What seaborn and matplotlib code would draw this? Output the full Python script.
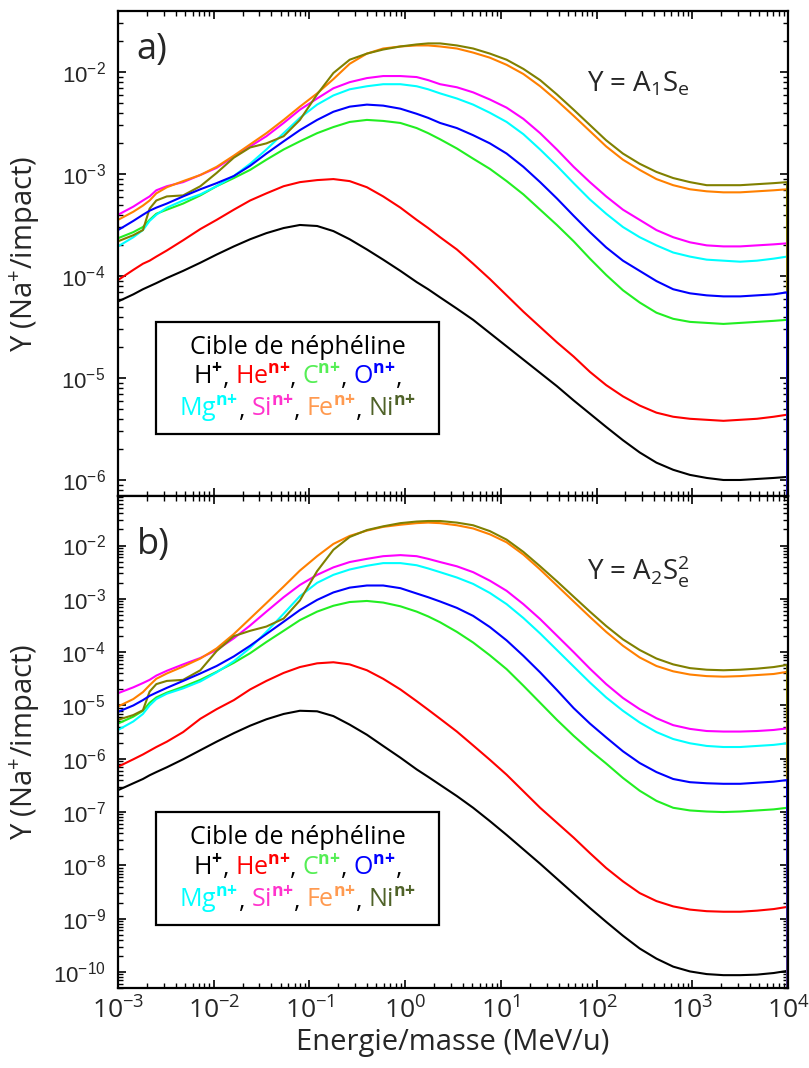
import numpy as np
import pandas as pd
import matplotlib
matplotlib.use('Agg')
import matplotlib.pyplot as plt
import seaborn as sns
from matplotlib.ticker import LogLocator, NullFormatter
from matplotlib.patches import Rectangle
from matplotlib.offsetbox import TextArea, HPacker, AnnotationBbox

# energie/masse (MeV/u), en log10
log_energie = [-3.0, -2.84, -2.74, -2.67, -2.60, -2.49, -2.32, -2.14, -1.97, -1.79, -1.62,
               -1.45, -1.27, -1.10, -0.92, -0.75, -0.58, -0.40, -0.23, -0.05, 0.12, 0.24,
               0.365, 0.54, 0.71, 0.885, 1.06, 1.235, 1.41, 1.585, 1.76, 1.93, 2.10, 2.275,
               2.45, 2.625, 2.80, 2.975, 3.15, 3.325, 3.50, 3.675, 3.85, 3.99]
energie_chute = 9.95e3   # chute verticale en fin de courbe
y_chute = 1e-12

ions = ['H', 'He', 'C', 'O', 'Mg', 'Si', 'Fe', 'Ni']
couleurs = ['#000000', '#ff0000', '#22ee22', '#0000ff', '#00ffff', '#ff00ff', '#ff8000', '#808000']
couleurs_texte = ['#000000', '#ff0000', '#55ee55', '#0000ff', '#00ffff', '#ff33cc', '#ff9a50', '#4f6228']

# a) Y = A1 Se  (log10 du rendement)
ya_h = [-4.25, -4.18, -4.13, -4.10, -4.07, -4.02, -3.95, -3.87, -3.79, -3.71, -3.64, -3.58, -3.53,
        -3.50, -3.51, -3.56, -3.64, -3.74, -3.84, -3.95, -4.06, -4.13, -4.21, -4.32, -4.43, -4.56,
        -4.69, -4.82, -4.95, -5.08, -5.22, -5.35, -5.48, -5.61, -5.73, -5.83, -5.90, -5.95, -5.98,
        -6.00, -6.00, -5.99, -5.98, -5.97]
ya_he = [-4.04, -3.94, -3.88, -3.85, -3.81, -3.75, -3.65, -3.54, -3.45, -3.35, -3.26, -3.19, -3.12,
         -3.08, -3.06, -3.05, -3.07, -3.13, -3.22, -3.33, -3.45, -3.53, -3.62, -3.74, -3.88, -4.03,
         -4.19, -4.35, -4.50, -4.65, -4.79, -4.94, -5.07, -5.18, -5.27, -5.34, -5.38, -5.40, -5.41,
         -5.42, -5.41, -5.40, -5.38, -5.36]
ya_c = [-3.63, -3.57, -3.52, -3.45, -3.39, -3.35, -3.29, -3.21, -3.12, -3.04, -2.96, -2.86, -2.76,
        -2.68, -2.60, -2.54, -2.49, -2.47, -2.48, -2.50, -2.55, -2.60, -2.66, -2.75, -2.85, -2.95,
        -3.07, -3.20, -3.35, -3.50, -3.66, -3.83, -3.99, -4.14, -4.26, -4.36, -4.42, -4.45, -4.46,
        -4.47, -4.46, -4.45, -4.44, -4.43]
ya_o = [-3.55, -3.46, -3.40, -3.36, -3.33, -3.29, -3.22, -3.15, -3.09, -3.02, -2.92, -2.80, -2.68,
        -2.57, -2.47, -2.39, -2.34, -2.32, -2.33, -2.36, -2.41, -2.45, -2.50, -2.55, -2.62, -2.70,
        -2.80, -2.93, -3.08, -3.24, -3.41, -3.57, -3.72, -3.85, -3.95, -4.05, -4.13, -4.17, -4.19,
        -4.20, -4.20, -4.19, -4.18, -4.16]
ya_mg = [-3.71, -3.62, -3.55, -3.46, -3.40, -3.33, -3.26, -3.20, -3.12, -3.02, -2.90, -2.76, -2.60,
         -2.45, -2.32, -2.23, -2.17, -2.14, -2.12, -2.12, -2.14, -2.17, -2.21, -2.26, -2.32, -2.40,
         -2.49, -2.61, -2.76, -2.92, -3.09, -3.25, -3.39, -3.52, -3.62, -3.70, -3.77, -3.81, -3.84,
         -3.85, -3.86, -3.85, -3.83, -3.81]
ya_si = [-3.40, -3.32, -3.26, -3.22, -3.16, -3.12, -3.08, -3.01, -2.94, -2.83, -2.73, -2.63, -2.50,
         -2.37, -2.26, -2.16, -2.10, -2.06, -2.04, -2.04, -2.05, -2.08, -2.12, -2.15, -2.20, -2.27,
         -2.35, -2.46, -2.60, -2.76, -2.93, -3.08, -3.22, -3.35, -3.45, -3.55, -3.62, -3.67, -3.70,
         -3.71, -3.71, -3.70, -3.69, -3.68]
ya_fe = [-3.45, -3.37, -3.31, -3.26, -3.19, -3.13, -3.07, -3.01, -2.93, -2.82, -2.71, -2.60, -2.47,
         -2.34, -2.21, -2.07, -1.92, -1.82, -1.77, -1.75, -1.74, -1.74, -1.75, -1.77, -1.81, -1.86,
         -1.93, -2.02, -2.14, -2.28, -2.43, -2.58, -2.73, -2.86, -2.96, -3.05, -3.11, -3.15, -3.17,
         -3.18, -3.18, -3.17, -3.16, -3.15]
ya_ni = [-3.66, -3.60, -3.55, -3.34, -3.26, -3.22, -3.21, -3.12, -2.99, -2.84, -2.74, -2.70, -2.63,
         -2.47, -2.22, -2.01, -1.88, -1.82, -1.78, -1.75, -1.73, -1.72, -1.72, -1.74, -1.77, -1.82,
         -1.88, -1.97, -2.08, -2.22, -2.37, -2.52, -2.67, -2.80, -2.90, -2.98, -3.04, -3.08, -3.11,
         -3.11, -3.11, -3.10, -3.09, -3.08]

# b) Y = A2 Se^2
yb_h = [-6.59, -6.46, -6.38, -6.31, -6.25, -6.16, -6.01, -5.84, -5.68, -5.52, -5.38, -5.26, -5.16,
        -5.10, -5.11, -5.20, -5.36, -5.55, -5.76, -5.98, -6.20, -6.34, -6.49, -6.70, -6.92, -7.17,
        -7.43, -7.70, -7.97, -8.25, -8.53, -8.80, -9.06, -9.32, -9.56, -9.75, -9.90, -9.99, -10.04,
        -10.06, -10.06, -10.05, -10.02, -9.98]
yb_he = [-6.15, -6.01, -5.92, -5.85, -5.78, -5.68, -5.50, -5.25, -5.07, -4.90, -4.70, -4.54, -4.39,
         -4.28, -4.21, -4.19, -4.23, -4.34, -4.50, -4.70, -4.92, -5.08, -5.25, -5.49, -5.75, -6.02,
         -6.30, -6.61, -6.92, -7.20, -7.48, -7.77, -8.05, -8.30, -8.52, -8.67, -8.77, -8.83, -8.86,
         -8.87, -8.87, -8.85, -8.82, -8.78]
yb_c = [-5.34, -5.21, -5.10, -4.95, -4.85, -4.76, -4.65, -4.52, -4.37, -4.20, -4.02, -3.81, -3.60,
        -3.40, -3.24, -3.13, -3.06, -3.04, -3.07, -3.14, -3.24, -3.33, -3.44, -3.62, -3.82, -4.06,
        -4.32, -4.63, -4.95, -5.27, -5.57, -5.84, -6.09, -6.36, -6.60, -6.79, -6.92, -6.97, -6.99,
        -7.00, -6.99, -6.97, -6.95, -6.92]
yb_o = [-5.12, -5.00, -4.90, -4.82, -4.76, -4.67, -4.54, -4.40, -4.26, -4.08, -3.88, -3.66, -3.43,
        -3.21, -3.02, -2.88, -2.79, -2.75, -2.75, -2.80, -2.90, -2.97, -3.05, -3.17, -3.32, -3.53,
        -3.78, -4.07, -4.38, -4.71, -5.05, -5.34, -5.60, -5.86, -6.08, -6.25, -6.38, -6.44, -6.46,
        -6.47, -6.47, -6.45, -6.43, -6.40]
yb_mg = [-5.46, -5.30, -5.16, -5.00, -4.88, -4.78, -4.68, -4.55, -4.38, -4.17, -3.92, -3.62, -3.28,
         -2.95, -2.70, -2.55, -2.45, -2.38, -2.33, -2.33, -2.37, -2.43, -2.50, -2.60, -2.72, -2.89,
         -3.10, -3.36, -3.65, -3.96, -4.27, -4.57, -4.85, -5.10, -5.32, -5.50, -5.63, -5.71, -5.76,
         -5.78, -5.78, -5.76, -5.74, -5.71]
yb_si = [-4.77, -4.66, -4.58, -4.52, -4.44, -4.35, -4.23, -4.11, -3.96, -3.74, -3.50, -3.24, -2.97,
         -2.74, -2.55, -2.41, -2.31, -2.25, -2.20, -2.18, -2.20, -2.25, -2.31, -2.39, -2.50, -2.66,
         -2.85, -3.10, -3.38, -3.69, -4.00, -4.31, -4.60, -4.86, -5.07, -5.24, -5.37, -5.44, -5.48,
         -5.49, -5.49, -5.48, -5.46, -5.43]
yb_fe = [-5.02, -4.88, -4.75, -4.62, -4.50, -4.40, -4.27, -4.12, -3.93, -3.66, -3.37, -3.08, -2.77,
         -2.47, -2.20, -1.97, -1.82, -1.72, -1.65, -1.61, -1.58, -1.57, -1.58, -1.62, -1.68, -1.79,
         -1.94, -2.17, -2.45, -2.75, -3.05, -3.34, -3.62, -3.88, -4.10, -4.26, -4.36, -4.42, -4.45,
         -4.46, -4.45, -4.43, -4.41, -4.37]
yb_ni = [-5.27, -5.18, -5.09, -4.74, -4.60, -4.54, -4.52, -4.34, -3.98, -3.70, -3.60, -3.52, -3.37,
         -3.03, -2.48, -2.08, -1.84, -1.71, -1.64, -1.58, -1.55, -1.54, -1.54, -1.57, -1.62, -1.73,
         -1.89, -2.12, -2.39, -2.67, -2.96, -3.24, -3.51, -3.76, -3.96, -4.12, -4.23, -4.30, -4.33,
         -4.34, -4.33, -4.31, -4.28, -4.24]

series_a = [ya_h, ya_he, ya_c, ya_o, ya_mg, ya_si, ya_fe, ya_ni]
series_b = [yb_h, yb_he, yb_c, yb_o, yb_mg, yb_si, yb_fe, yb_ni]

# graduations majeures (puissances de 10)
decades_x = list(range(-3, 5))
decades_a = list(range(-6, -1))
decades_b = list(range(-10, -1))


def tableau(series):
    morceaux = []
    for ion, ly in zip(ions, series):
        e = list(10.0 ** np.array(log_energie)) + [energie_chute]
        y = list(10.0 ** np.array(ly)) + [y_chute]
        morceaux.append(pd.DataFrame({'energie': e, 'Y': y, 'ion': ion}))
    return pd.concat(morceaux, ignore_index=True)


def ligne_coloree(ax, morceaux, y, taille, virgule_finale=False):
    groupes = []
    for i, (texte, couleur) in enumerate(morceaux):
        mot = TextArea(texte, textprops=dict(color=couleur, fontsize=taille, family='Open Sans'))
        if i < len(morceaux) - 1 or virgule_finale:
            virg = TextArea(',', textprops=dict(color='black', fontsize=taille, family='Open Sans'))
            groupes.append(HPacker(children=[mot, virg], align='baseline', pad=0, sep=0))
        else:
            groupes.append(mot)
    pack = HPacker(children=groupes, align='baseline', pad=0, sep=4)
    ab = AnnotationBbox(pack, (0.268, y), xycoords='axes fraction', frameon=False,
                        box_alignment=(0.5, 0.5), pad=0)
    ax.add_artist(ab)


sns.set_style('ticks')
plt.rcParams['font.family'] = ['Open Sans', 'DejaVu Sans']
plt.rcParams['mathtext.fontset'] = 'custom'
plt.rcParams['mathtext.rm'] = 'Open Sans'
plt.rcParams['mathtext.it'] = 'Open Sans:italic'
plt.rcParams['mathtext.bf'] = 'Open Sans:bold'

fig = plt.figure(figsize=(8.09, 10.68), dpi=100)
ax_a = fig.add_axes([0.1459, 0.5356, 0.8282, 0.4541])
ax_b = fig.add_axes([0.1459, 0.0749, 0.8282, 0.4607])

palette = dict(zip(ions, couleurs))
ordre = ['H', 'He', 'C', 'Mg', 'Si', 'Fe', 'Ni', 'O']

for ax, series, ylim, decades_y, lettre, formule, ylet in [
        (ax_a, series_a, (6.97e-7, 3.96e-2), decades_a, 'a)', r'Y = A$_{1}$S$_{\mathrm{e}}$', 0.92),
        (ax_b, series_b, (5.0e-11, 8.5e-2), decades_b, 'b)', r'Y = A$_{2}$S$_{\mathrm{e}}^{2}$', 0.90)]:
    df = tableau(series)
    sns.lineplot(data=df, x='energie', y='Y', hue='ion', hue_order=ordre, palette=palette,
                 estimator=None, sort=False, linewidth=1.5, legend=False, ax=ax)
    ax.set(xscale='log', yscale='log')
    ax.set_xticks(10.0 ** np.array(decades_x, dtype=float))
    ax.set_yticks(10.0 ** np.array(decades_y, dtype=float))
    ax.set_xlim(1e-3, 1e4)
    ax.set_ylim(*ylim)
    ax.xaxis.set_minor_locator(LogLocator(base=10, subs=np.arange(2, 10), numticks=20))
    ax.yaxis.set_minor_locator(LogLocator(base=10, subs=np.arange(2, 10), numticks=20))
    ax.xaxis.set_minor_formatter(NullFormatter())
    ax.yaxis.set_minor_formatter(NullFormatter())
    ax.tick_params(which='both', direction='in', top=True, right=True, color='black')
    ax.tick_params(which='major', length=6, width=1.2)
    ax.tick_params(which='minor', length=3.5, width=1.0)
    ax.tick_params(axis='y', labelsize=16, labelfontfamily='Liberation Sans', pad=9)
    ax.tick_params(axis='x', labelsize=19, pad=7)
    for sp in ax.spines.values():
        sp.set_linewidth(1.6)
        sp.set_color('black')
    ax.set_xlabel('')
    ax.set_ylabel('Y (Na$^{+}$/impact)', fontsize=21)
    ax.yaxis.set_label_coords(-0.113, 0.5)
    ax.text(0.028, ylet, lettre, transform=ax.transAxes, fontsize=26, ha='left', va='center')
    ax.text(0.70, 0.848, formule, transform=ax.transAxes, fontsize=20, ha='left', va='center')

    ax.add_patch(Rectangle((0.057, 0.128), 0.422, 0.23, transform=ax.transAxes,
                           fill=False, edgecolor='black', linewidth=1.6, zorder=5))
    ligne_coloree(ax, [('Cible de néphéline', 'black')], 0.306, 18)
    ligne_coloree(ax, [(r'H$^{\mathbf{+}}$', couleurs_texte[0]),
                       (r'He$^{\mathbf{n{+}}}$', couleurs_texte[1]),
                       (r'C$^{\mathbf{n{+}}}$', couleurs_texte[2]),
                       (r'O$^{\mathbf{n{+}}}$', couleurs_texte[3])], 0.243, 18,
                  virgule_finale=True)
    ligne_coloree(ax, [(r'Mg$^{\mathbf{n{+}}}$', couleurs_texte[4]),
                       (r'Si$^{\mathbf{n{+}}}$', couleurs_texte[5]),
                       (r'Fe$^{\mathbf{n{+}}}$', couleurs_texte[6]),
                       (r'Ni$^{\mathbf{n{+}}}$', couleurs_texte[7])], 0.178, 18)

ax_a.tick_params(axis='x', labelbottom=False)
ax_b.set_xlabel('Energie/masse (MeV/u)', fontsize=21, labelpad=2)

fig.savefig('out.png', dpi=100)
